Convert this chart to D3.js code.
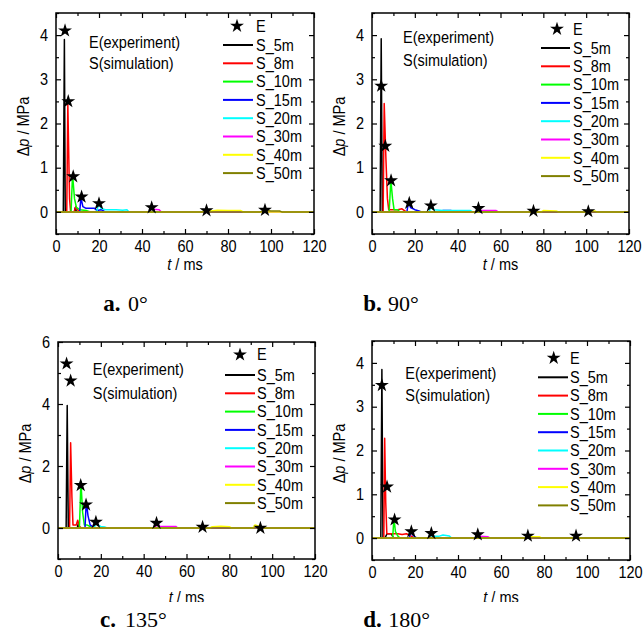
<!DOCTYPE html>
<html><head><meta charset="utf-8">
<script src="https://cdn.jsdelivr.net/npm/d3@7"></script>
<style>
body{margin:0;background:#fff}
.ns{transform-box:fill-box;transform-origin:0% 50%;transform:scaleX(0.88)}
.nm{transform-box:fill-box;transform-origin:50% 50%;transform:scaleX(0.88)}
.ne{transform-box:fill-box;transform-origin:100% 50%;transform:scaleX(0.88)}
</style>
</head><body><svg id="c" width="644" height="637"></svg>
<script>
// ---------------- data ----------------
const seriesNames = ["S_5m","S_8m","S_10m","S_15m","S_20m","S_30m","S_40m","S_50m"];
const seriesColors = ["#000000","#ff0000","#00ff00","#0000ff","#00ffff","#ff00ff","#ffff00","#808000"];
const xTicks = [0,20,40,60,80,100,120];
const xMinor = [10,30,50,70,90,110];
const yTicksABD = [0,1,2,3,4];
const yMinorABD = [-0.5,0.5,1.5,2.5,3.5,4.5];
const yTicksC = [0,2,4,6];
const yMinorC = [-1,1,3,5];
const captionLetters = ["a.","b.","c.","d."];
const captionAngles = ["0°","90°","135°","180°"];

// experiment points [t ms, Δp MPa]
const expA = [[4.2,4.1],[5.7,2.5],[8.0,0.8],[11.9,0.34],[20,0.19],[44.5,0.1],[70,0.03],[97.2,0.04]];
const expB = [[4.3,2.85],[6.2,1.49],[8.9,0.71],[17.4,0.2],[27.5,0.14],[49.7,0.08],[75.4,0.02],[101,0.01]];
const expC = [[4.0,5.3],[5.9,4.75],[10.6,1.38],[13.1,0.75],[17.7,0.19],[46,0.16],[67.5,0.03],[94.5,0.0]];
const expD = [[4.6,3.49],[7.0,1.17],[10.5,0.42],[18.3,0.15],[27.6,0.11],[49.2,0.08],[72.5,0.05],[94.9,0.05]];

// simulated traces, one per distance (5,8,10,15,20,30,40,50 m)
const simA = [
  [[0,0],[3.4,0],[3.9,3.9],[4.3,0],[8.5,0],[9,0.1],[9.5,0],[120,0]],
  [[0,0],[5.0,0],[5.5,2.45],[6.3,0.3],[6.8,0],[8.5,0],[9.2,0.12],[10,0.05],[11,0],[120,0]],
  [[0,0],[7.0,0],[7.7,0.85],[8.6,0.3],[9.5,0.1],[11,0.05],[14,0.03],[16,0],[120,0]],
  [[0,0],[11,0],[11.6,0.32],[12.5,0.12],[14,0.08],[18,0.08],[19,0.03],[21,0.05],[23,0],[120,0]],
  [[0,0],[19,0],[19.8,0.2],[21,0.08],[23,0.05],[28,0.05],[31,0.04],[33,0.05],[34,0],[120,0]],
  [[0,0],[43.5,0],[44.5,0.1],[45.5,0.06],[48,0.05],[49,0],[120,0]],
  [[0,0],[68,0],[70,0.04],[72,0.02],[75,0.04],[80,0.03],[86,0.03],[87,0],[120,0]],
  [[0,0],[95,0],[97,0.04],[100,0.02],[104,0.02],[105,0],[120,0]]
];
const simB = [
  [[0,0],[3.8,0],[4.3,3.92],[4.8,0],[120,0]],
  [[0,0],[5.2,0],[5.7,2.45],[6.5,1.2],[7.2,0.3],[7.8,0.05],[12,0.05],[14,0.07],[16,0],[120,0]],
  [[0,0],[8.0,0],[8.8,0.72],[9.6,0.3],[10.3,0.05],[12,0.05],[13,0],[120,0]],
  [[0,0],[16.3,0],[17,0.22],[18,0.1],[20,0.05],[22,0.02],[23,0],[32,0],[33,0.03],[37,0.03],[38,0],[120,0]],
  [[0,0],[26.8,0],[27.5,0.15],[29,0.05],[33,0.03],[40,0.03],[46,0.03],[47,0],[120,0]],
  [[0,0],[48.5,0],[49.5,0.07],[51,0.03],[58,0.03],[59,0],[120,0]],
  [[0,0],[79,0],[80,0.03],[86,0.02],[87,0],[100,0],[101,0.03],[104,0.02],[105,0],[120,0]],
  [[0,0],[120,0]]
];
const simC = [
  [[0,0],[3.8,0],[4.3,3.95],[4.8,0],[9,0],[9.5,0.15],[10,0],[120,0]],
  [[0,0],[5.4,0],[5.9,2.75],[6.5,1.0],[7.0,0.1],[8.5,0.1],[9.2,0.25],[10,0.05],[11,0],[120,0]],
  [[0,0],[10.0,0],[10.7,1.5],[11.5,0.5],[12.3,0.1],[13.5,0.1],[15,0.05],[16,0],[120,0]],
  [[0,0],[12.6,0],[13.2,0.85],[14,0.4],[15,0.1],[16,0.05],[17,0],[120,0]],
  [[0,0],[17,0],[17.6,0.2],[18.5,0.1],[20,0.05],[22,0.03],[23,0],[120,0]],
  [[0,0],[45.5,0],[46.2,0.15],[47.5,0.06],[50,0.05],[55,0.05],[56,0],[120,0]],
  [[0,0],[71,0],[72,0.04],[76,0.06],[80,0.04],[81,0],[91,0],[92,0.1],[94,0.05],[95,0],[120,0]],
  [[0,0],[120,0]]
];
const simD = [
  [[0,0],[4.1,0],[4.6,3.85],[5.1,0],[6,0],[7,0.1],[9,0.1],[10,0],[120,0]],
  [[0,0],[5.5,0],[5.9,2.28],[6.4,0.8],[6.9,0.1],[12,0.1],[14,0.08],[16,0.1],[18,0.05],[20,0],[120,0]],
  [[0,0],[9.6,0],[10.2,0.45],[10.9,0.15],[12,0.05],[13,0],[120,0]],
  [[0,0],[17.4,0],[18,0.2],[18.8,0.08],[20,0.03],[21,0],[120,0]],
  [[0,0],[26.5,0],[27,0.1],[28,0.04],[31,0.04],[33,0.07],[36,0.05],[37,0],[120,0]],
  [[0,0],[49,0],[50,0.04],[54,0.03],[55,0],[120,0]],
  [[0,0],[72,0],[73,0.03],[78,0.03],[79,0],[120,0]],
  [[0,0],[120,0]]
];

// ---------------- rendering ----------------
const FONT = '"Liberation Sans", Arial, sans-serif';
const FS = 16.5;

const svg = d3.select("#c");
const defs = svg.append("defs");
defs.append("clipPath").attr("id","clipTop").append("rect").attr("x",0).attr("y",0).attr("width",644).attr("height",277);
defs.append("clipPath").attr("id","clipBot").append("rect").attr("x",0).attr("y",277).attr("width",644).attr("height",325);

const panels = [
  {sim:simA, exp:expA, left:56, right:314, top:13, bottom:234, yDomain:[-0.5,4.5], yTicks:yTicksABD, yMinor:yMinorABD,
   clip:"clipTop", xTitleOff:36, legLine:[223,253], legText:256, legStar:237, legE:26, legS:45,
   noteX:89, noteY:[42,63], capX:[103.3,128], capY:310.7},
  {sim:simB, exp:expB, left:372, right:629, top:13, bottom:234, yDomain:[-0.5,4.5], yTicks:yTicksABD, yMinor:yMinorABD,
   clip:"clipTop", xTitleOff:36, legLine:[541,570], legText:573, legStar:557, legE:29, legS:48,
   noteX:403, noteY:[37,60], capX:[363.3,388], capY:310.7},
  {sim:simC, exp:expC, left:58, right:315, top:342, bottom:559, yDomain:[-1,6], yTicks:yTicksC, yMinor:yMinorC,
   clip:"clipBot", xTitleOff:44, legLine:[225,255], legText:257, legStar:240, legE:354.7, legS:375,
   noteX:92.7, noteY:[369.7,393], capX:[100,125], capY:627.3},
  {sim:simD, exp:expD, left:372, right:630, top:341, bottom:560, yDomain:[-0.5,4.5], yTicks:yTicksABD, yMinor:yMinorABD,
   clip:"clipBot", xTitleOff:43, legLine:[538,568], legText:570, legStar:553.7, legE:358, legS:377.3,
   noteX:405.3, noteY:[373,395], capX:[363.3,388.3], capY:627.3}
];

const star = d3.symbol(d3.symbolStar, 60);

panels.forEach((p, pi) => {
  const g = svg.append("g").attr("clip-path", `url(#${p.clip})`);
  const x = d3.scaleLinear().domain([0,120]).range([p.left, p.right]);
  const y = d3.scaleLinear().domain(p.yDomain).range([p.bottom, p.top]);
  const line = d3.line().x(d => x(d[0])).y(d => y(d[1]));

  const plot = g.append("g");
  p.sim.forEach((s, i) => {
    plot.append("path").attr("d", line(s)).attr("fill","none")
      .attr("stroke", seriesColors[i]).attr("stroke-width", 1.5).attr("stroke-linejoin","round");
  });
  plot.selectAll(null).data(p.exp).join("path")
    .attr("transform", d => `translate(${x(d[0])},${y(d[1])})`)
    .attr("d", star).attr("fill","#000");

  // axes (inward ticks, mirrored)
  const styleAxis = (cls) => (sel) => {
    sel.selectAll("path.domain").remove();
    sel.selectAll("line").attr("stroke","#000").attr("stroke-width",1.2);
    sel.selectAll("text").attr("font-family", FONT).attr("font-size", FS).attr("fill","#000").attr("class", cls);
  };
  g.append("g").attr("transform",`translate(0,${p.bottom})`)
    .call(d3.axisBottom(x).tickValues(xTicks).tickSizeInner(-5).tickSizeOuter(0).tickPadding(6).tickFormat(d3.format("d")))
    .call(styleAxis("nm"));
  g.append("g").attr("transform",`translate(0,${p.bottom})`)
    .call(d3.axisBottom(x).tickValues(xMinor).tickSizeInner(-3).tickSizeOuter(0).tickFormat(""))
    .call(styleAxis("nm"));
  g.append("g").attr("transform",`translate(0,${p.top})`)
    .call(d3.axisTop(x).tickValues(xTicks).tickSizeInner(-5).tickSizeOuter(0).tickFormat(""))
    .call(styleAxis("nm"));
  g.append("g").attr("transform",`translate(0,${p.top})`)
    .call(d3.axisTop(x).tickValues(xMinor).tickSizeInner(-3).tickSizeOuter(0).tickFormat(""))
    .call(styleAxis("nm"));
  g.append("g").attr("transform",`translate(${p.left},0)`)
    .call(d3.axisLeft(y).tickValues(p.yTicks).tickSizeInner(-5).tickSizeOuter(0).tickPadding(8).tickFormat(d3.format("d")))
    .call(styleAxis("ne"));
  g.append("g").attr("transform",`translate(${p.left},0)`)
    .call(d3.axisLeft(y).tickValues(p.yMinor).tickSizeInner(-3).tickSizeOuter(0).tickFormat(""))
    .call(styleAxis("ne"));
  g.append("g").attr("transform",`translate(${p.right},0)`)
    .call(d3.axisRight(y).tickValues(p.yTicks).tickSizeInner(-5).tickSizeOuter(0).tickFormat(""))
    .call(styleAxis("ns"));
  g.append("g").attr("transform",`translate(${p.right},0)`)
    .call(d3.axisRight(y).tickValues(p.yMinor).tickSizeInner(-3).tickSizeOuter(0).tickFormat(""))
    .call(styleAxis("ns"));

  g.append("rect").attr("x",p.left).attr("y",p.top).attr("width",p.right-p.left).attr("height",p.bottom-p.top)
    .attr("fill","none").attr("stroke","#000").attr("stroke-width",1.5);

  // axis titles
  const yt = g.append("g").attr("transform",`translate(${p.left-33},${(p.top+p.bottom)/2+3}) rotate(-90)`)
    .append("text").attr("class","nm").attr("font-family",FONT).attr("font-size",FS).attr("text-anchor","middle").attr("dy","0.35em");
  yt.append("tspan").text("Δ");
  yt.append("tspan").attr("font-style","italic").text("p");
  yt.append("tspan").text(" / MPa");
  const xt = g.append("text").attr("class","nm").attr("font-family",FONT).attr("font-size",FS).attr("text-anchor","middle")
    .attr("x",(p.left+p.right)/2).attr("y",p.bottom+p.xTitleOff);
  xt.append("tspan").attr("font-style","italic").text("t");
  xt.append("tspan").text(" / ms");

  // notes
  g.append("text").attr("class","ns").attr("font-family",FONT).attr("font-size",FS).attr("x",p.noteX).attr("y",p.noteY[0]).attr("dy","0.35em").text("E(experiment)");
  g.append("text").attr("class","ns").attr("font-family",FONT).attr("font-size",FS).attr("x",p.noteX).attr("y",p.noteY[1]).attr("dy","0.35em").text("S(simulation)");

  // legend
  const leg = g.append("g");
  leg.append("path").attr("transform",`translate(${p.legStar},${p.legE})`).attr("d",star).attr("fill","#000");
  leg.append("text").attr("class","ns").attr("font-family",FONT).attr("font-size",FS).attr("x",p.legText).attr("y",p.legE).attr("dy","0.35em").text("E");
  seriesNames.forEach((n, i) => {
    const yy = p.legS + i*18.3;
    leg.append("line").attr("x1",p.legLine[0]).attr("x2",p.legLine[1]).attr("y1",yy).attr("y2",yy)
      .attr("stroke",seriesColors[i]).attr("stroke-width",2);
    leg.append("text").attr("class","ns").attr("font-family",FONT).attr("font-size",FS).attr("x",p.legText).attr("y",yy).attr("dy","0.35em").text(n);
  });

  // caption
  svg.append("text").attr("font-family",'"Liberation Serif", serif').attr("font-size",23).attr("font-weight","bold")
    .attr("x",p.capX[0]).attr("y",p.capY).text(captionLetters[pi]);
  svg.append("text").attr("font-family",'"Liberation Serif", serif').attr("font-size",22)
    .attr("x",p.capX[1]).attr("y",p.capY).text(captionAngles[pi]);
});
</script></body></html>
